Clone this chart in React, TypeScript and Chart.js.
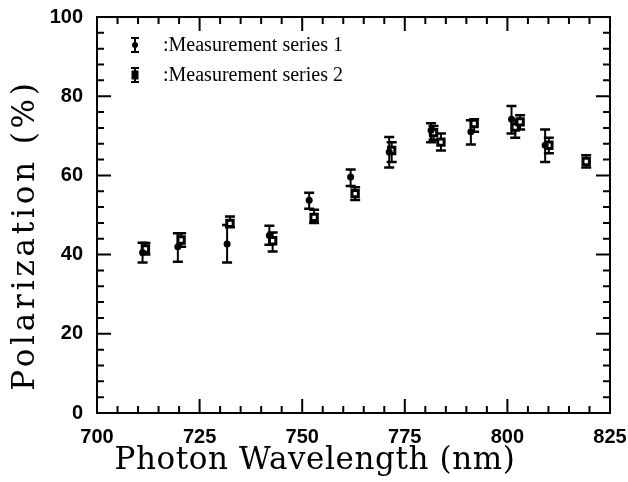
import React, { useEffect, useRef } from "react";
import { Chart, registerables } from "chart.js";

Chart.register(...registerables);

// Series 1: wavelength (nm), polarization (%), error bar low / high
const s1X = [711.1, 719.7, 731.7, 742.0, 751.7, 761.8, 771.2, 781.4, 791.1, 801.0, 809.2];
const s1Y = [40.5, 42.0, 42.7, 44.8, 53.7, 59.6, 65.9, 71.4, 71.0, 74.2, 67.6];
const s1Lo = [38.0, 38.2, 38.0, 42.5, 51.6, 57.3, 62.0, 68.4, 67.8, 70.6, 63.4];
const s1Hi = [43.0, 45.4, 47.5, 47.3, 55.6, 61.5, 69.7, 73.2, 73.9, 77.5, 71.6];

// Series 2
const s2X = [711.8, 720.5, 732.4, 742.8, 752.9, 762.9, 771.8, 782.0, 783.8, 791.9, 801.9, 803.1, 810.1, 819.2];
const s2Y = [41.4, 43.7, 47.9, 43.5, 49.4, 55.4, 66.3, 70.8, 68.4, 73.1, 72.2, 73.5, 67.6, 63.5];
const s2Lo = [40.0, 42.0, 46.9, 40.8, 48.0, 53.8, 63.4, 69.0, 66.3, 71.0, 69.5, 71.6, 65.6, 62.0];
const s2Hi = [42.9, 45.4, 49.6, 45.6, 51.3, 57.0, 68.4, 72.5, 70.6, 74.2, 74.0, 75.2, 69.5, 65.1];

const seriesNames = [":Measurement series 1", ":Measurement series 2"];
const xTitle = "Photon Wavelength (nm)";
const yTitle = "Polarization (%)";

const X_MIN = 700, X_MAX = 825, X_STEP = 25, X_MINOR = 5;
const Y_MIN = 0, Y_MAX = 100, Y_STEP = 20, Y_MINOR = 4;

export default function App() {
  const ref = useRef<HTMLCanvasElement>(null);

  useEffect(() => {
    const canvas = ref.current;
    if (!canvas) return;

    const errorBars = {
      id: "errorBars",
      beforeDatasetsDraw(chart: any) {
        const { ctx } = chart;
        const xs = chart.scales.x;
        const ys = chart.scales.y;
        ctx.save();
        ctx.strokeStyle = "#000";
        ctx.lineWidth = 2;
        chart.data.datasets.forEach((ds: any) => {
          const cap = ds.capHalf;
          ds.data.forEach((p: any, j: number) => {
            const px = xs.getPixelForValue(p.x);
            const y1 = ys.getPixelForValue(ds.errLo[j]);
            const y2 = ys.getPixelForValue(ds.errHi[j]);
            ctx.beginPath();
            ctx.moveTo(px, y1);
            ctx.lineTo(px, y2);
            ctx.stroke();
            ctx.beginPath();
            ctx.lineWidth = 2.5;
            ctx.moveTo(px - cap, y1);
            ctx.lineTo(px + cap, y1);
            ctx.moveTo(px - cap, y2);
            ctx.lineTo(px + cap, y2);
            ctx.stroke();
            ctx.lineWidth = 2;
          });
        });
        ctx.restore();
      },
    };

    const frame = {
      id: "frame",
      afterDraw(chart: any) {
        const { ctx, chartArea: a } = chart;
        const xs = chart.scales.x;
        const ys = chart.scales.y;
        ctx.save();
        ctx.strokeStyle = "#000";
        ctx.lineWidth = 2;
        ctx.strokeRect(a.left, a.top, a.right - a.left, a.bottom - a.top);
        ctx.beginPath();
        for (let v = X_MIN; v <= X_MAX + 1e-9; v += X_MINOR) {
          const px = xs.getPixelForValue(v);
          const len = (v - X_MIN) % X_STEP === 0 ? 14 : 7;
          ctx.moveTo(px, a.bottom);
          ctx.lineTo(px, a.bottom - len);
          ctx.moveTo(px, a.top);
          ctx.lineTo(px, a.top + len);
        }
        for (let v = Y_MIN; v <= Y_MAX + 1e-9; v += Y_MINOR) {
          const py = ys.getPixelForValue(v);
          const len = (v - Y_MIN) % Y_STEP === 0 ? 14 : 7;
          ctx.moveTo(a.left, py);
          ctx.lineTo(a.left + len, py);
          ctx.moveTo(a.right, py);
          ctx.lineTo(a.right - len, py);
        }
        ctx.stroke();

        // legend
        const sx = a.left + 38;
        const tx = a.left + 66;
        const rows = [a.top + 28, a.top + 58];
        ctx.font = "20px 'Liberation Serif'";
        ctx.fillStyle = "#000";
        ctx.textBaseline = "middle";
        ctx.textAlign = "left";
        rows.forEach((ry, i) => {
          ctx.beginPath();
          ctx.lineWidth = 2;
          ctx.moveTo(sx, ry - 7);
          ctx.lineTo(sx, ry + 7);
          ctx.moveTo(sx - 4, ry - 7);
          ctx.lineTo(sx + 4, ry - 7);
          ctx.moveTo(sx - 4, ry + 7);
          ctx.lineTo(sx + 4, ry + 7);
          ctx.stroke();
          ctx.beginPath();
          if (i === 0) {
            ctx.arc(sx, ry, 3, 0, Math.PI * 2);
            ctx.fill();
          } else {
            ctx.fillRect(sx - 3.5, ry - 4.5, 7, 9);
          }
          ctx.fillText(seriesNames[i], tx, ry + 1);
        });

        // axis titles
        ctx.font = "31px 'DejaVu Serif'";
        ctx.textAlign = "center";
        ctx.textBaseline = "middle";
        (ctx as any).letterSpacing = "0.6px";
        ctx.fillText(xTitle, 315, 461);
        ctx.save();
        ctx.translate(26, 235);
        ctx.rotate(-Math.PI / 2);
        (ctx as any).letterSpacing = "3.8px";
        ctx.fillText(yTitle, 0, 0);
        ctx.restore();
        ctx.restore();
      },
    };

    const chart = new Chart(canvas, {
      type: "scatter",
      data: {
        datasets: [
          {
            label: seriesNames[0],
            data: s1X.map((x, i) => ({ x, y: s1Y[i] })),
            errLo: s1Lo,
            errHi: s1Hi,
            capHalf: 5,
            pointStyle: "circle",
            pointRadius: 3.5,
            backgroundColor: "#000",
            borderColor: "#000",
            borderWidth: 0,
          } as any,
          {
            label: seriesNames[1],
            data: s2X.map((x, i) => ({ x, y: s2Y[i] })),
            errLo: s2Lo,
            errHi: s2Hi,
            capHalf: 5,
            pointStyle: "rect",
            pointRadius: 4.5,
            backgroundColor: "#fff",
            borderColor: "#000",
            borderWidth: 3,
          } as any,
        ],
      },
      options: {
        animation: false,
        responsive: false,
        devicePixelRatio: 1,
        layout: { padding: { left: 0, right: 18, top: 17, bottom: 0 } },
        plugins: {
          legend: { display: false },
          tooltip: { enabled: false },
        },
        scales: {
          x: {
            type: "linear",
            min: X_MIN,
            max: X_MAX,
            grid: { display: false, drawTicks: false },
            border: { display: false },
            ticks: {
              stepSize: X_STEP,
              padding: 12,
              color: "#000",
              font: { family: "'Liberation Sans'", size: 20, weight: "bold" },
            },
            afterFit(scale: any) {
              scale.height = 69;
              scale.paddingLeft = 0;
              scale.paddingRight = 0;
            },
          },
          y: {
            type: "linear",
            min: Y_MIN,
            max: Y_MAX,
            grid: { display: false, drawTicks: false },
            border: { display: false },
            ticks: {
              stepSize: Y_STEP,
              padding: 14,
              color: "#000",
              font: { family: "'Liberation Sans'", size: 20, weight: "bold" },
            },
            afterFit(scale: any) {
              scale.width = 97;
              scale.paddingTop = 0;
              scale.paddingBottom = 0;
            },
          },
        },
      },
      plugins: [errorBars, frame],
    });

    return () => chart.destroy();
  }, []);

  return (
    <div style={{ position: "fixed", left: 0, top: 0, width: 628, height: 482, background: "#fff" }}>
      <canvas ref={ref} width={628} height={482} />
    </div>
  );
}
